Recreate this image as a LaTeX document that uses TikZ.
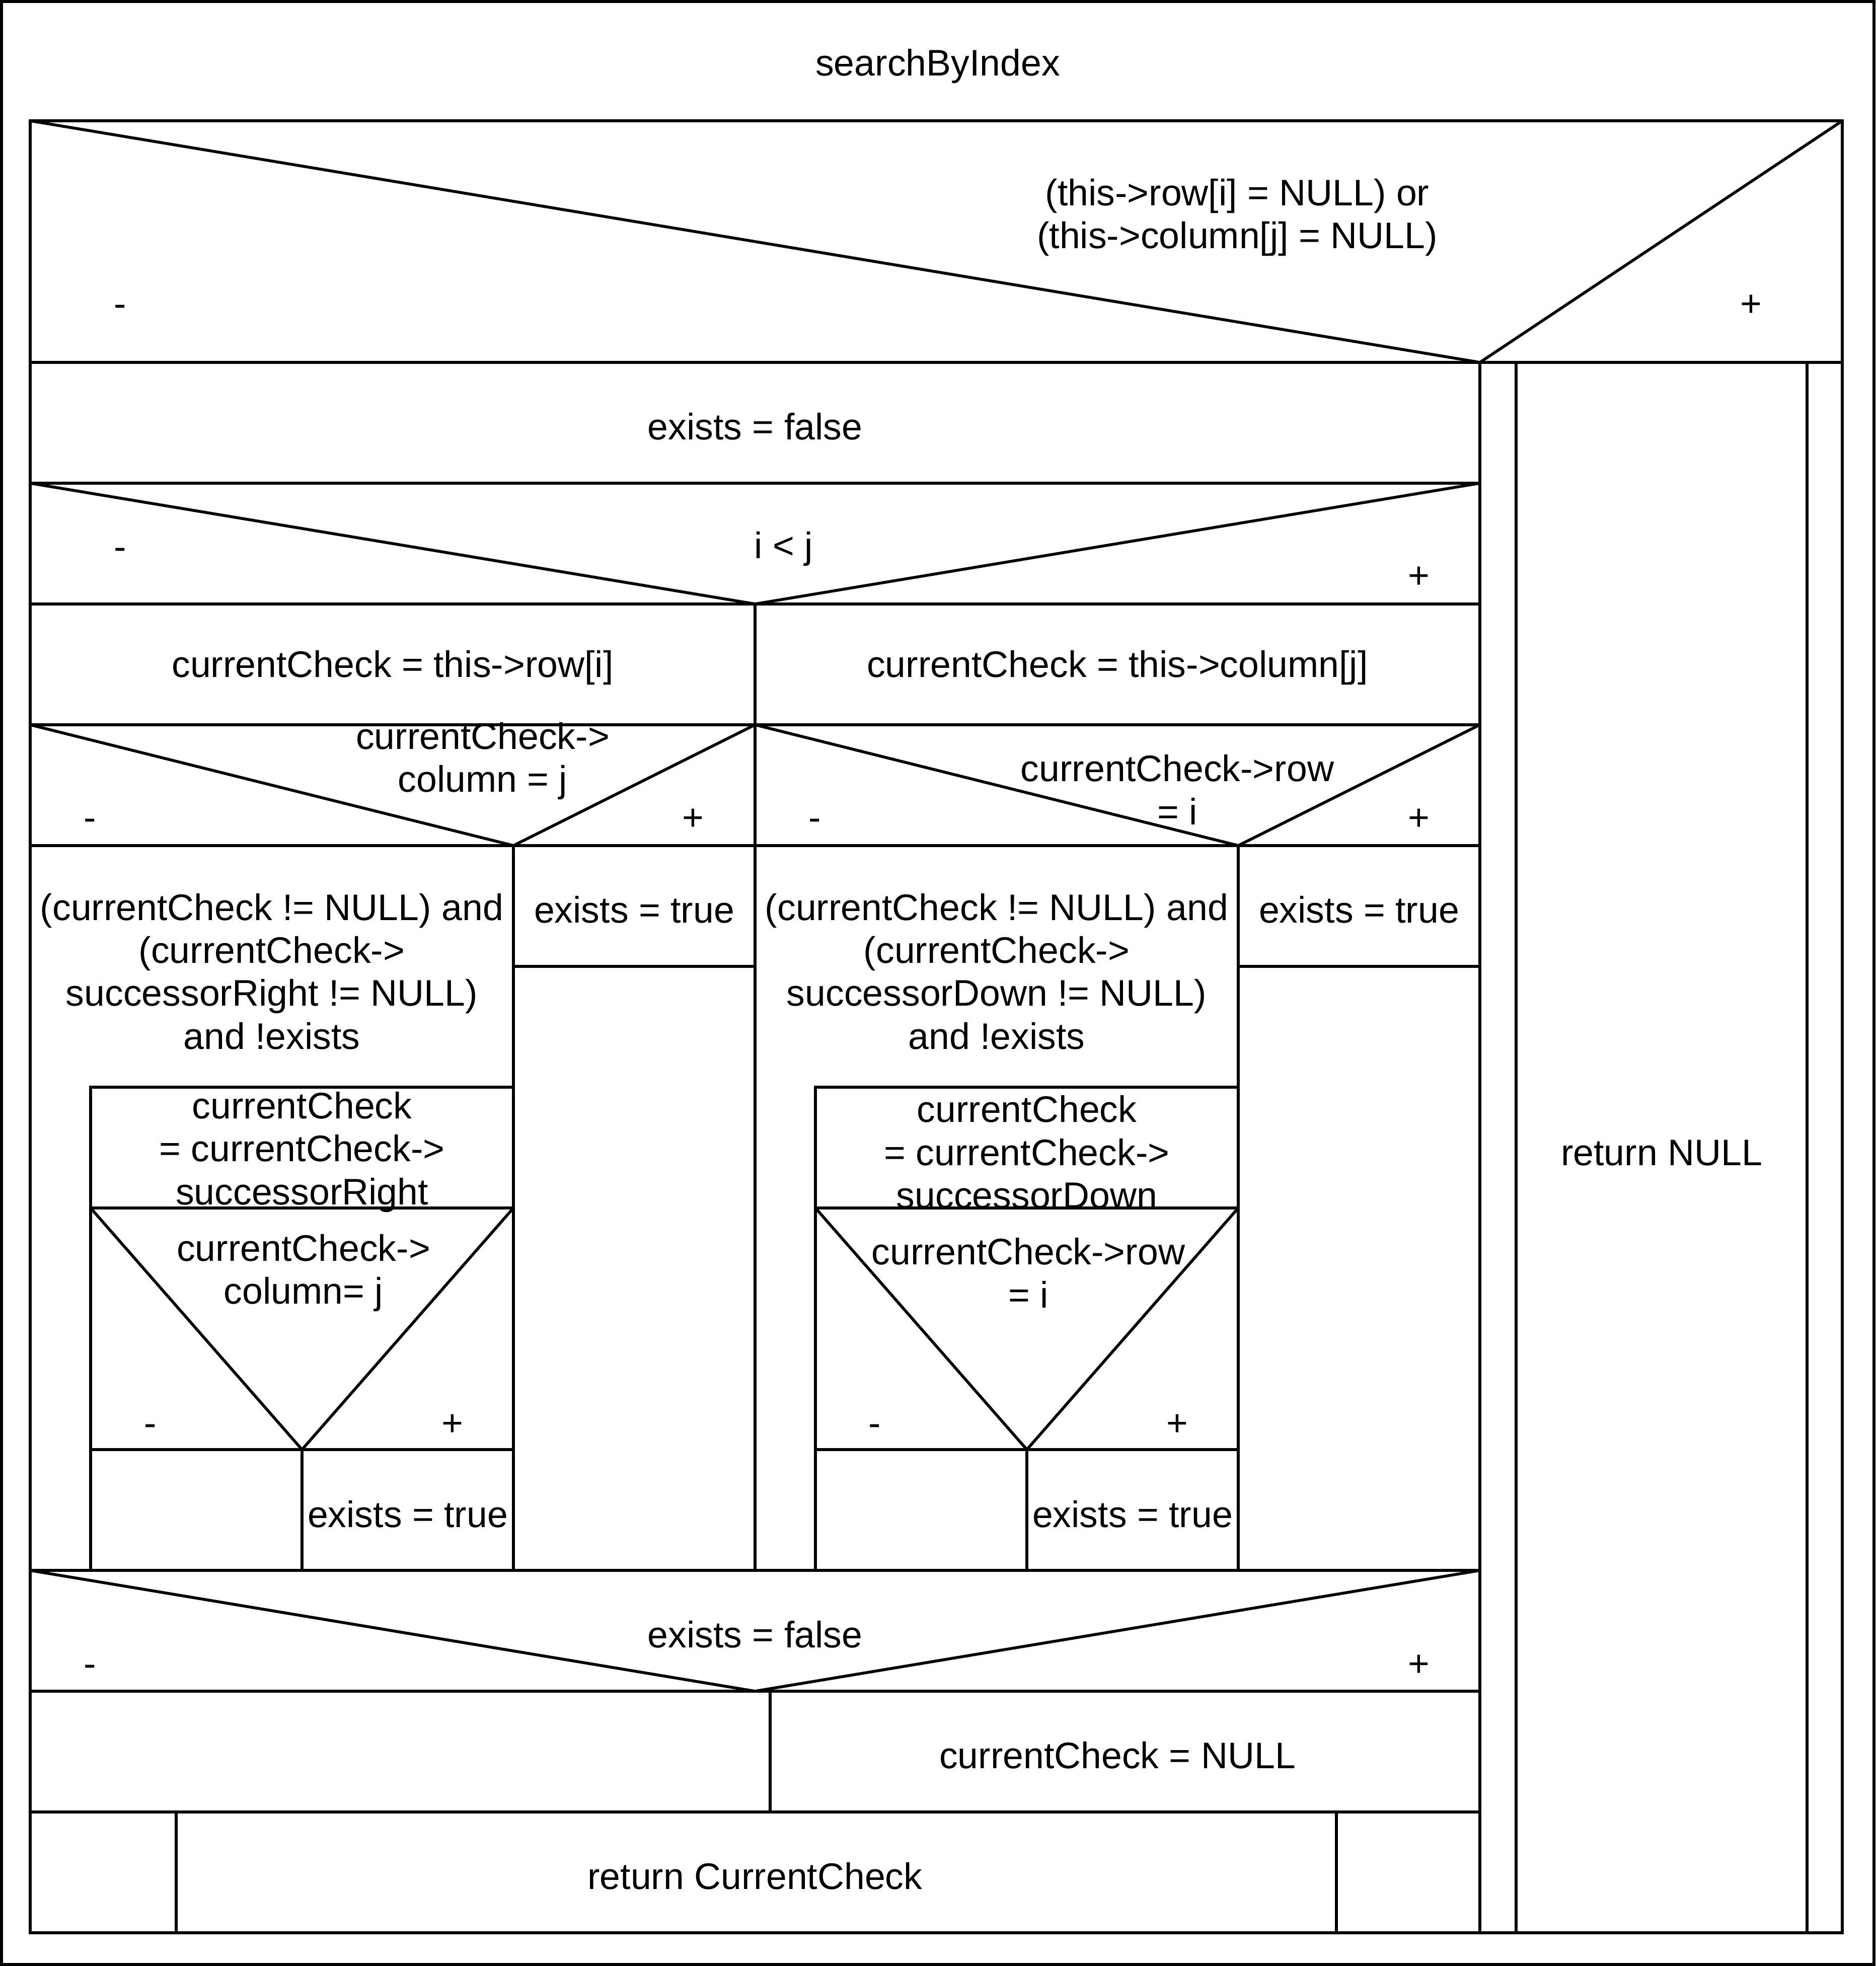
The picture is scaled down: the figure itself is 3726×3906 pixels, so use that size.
\documentclass[tikz,border=0pt]{standalone}
\usepackage{fontspec}
\setmainfont{Liberation Sans}
\begin{document}
\begin{tikzpicture}[x=0.004cm,y=-0.004cm,line width=0.65pt,line join=miter,
  lbl/.style={inner sep=0pt,align=center,font=\fontsize{8.35}{9.7}\selectfont},
  sgn/.style={lbl,yshift=-0.03cm},
  pls/.style={lbl,yshift=0.012cm},
  frame/.style={line width=0.72pt}]
\useasboundingbox (0,0) rectangle (3726,3906);
\draw[frame] (3,3) rectangle (3723,3903);
% main block
\draw (60,240) rectangle (3660,3840);
% decision 1
\draw (60,240) -- (2940,720) -- (3660,240);
\draw (60,720) -- (3660,720);
% right branch (return NULL block)
\draw (2940,720) -- (2940,3840);
\draw (3012,720) -- (3012,3840);
\draw (3590,720) -- (3590,3840);
% left branch
\draw (60,960) -- (2940,960);
\draw (60,960) -- (1500,1200) -- (2940,960);
\draw (60,1200) -- (2940,1200);
\draw (1500,1200) -- (1500,3120);
\draw (60,1440) -- (2940,1440);
\draw (60,1440) -- (1020,1680) -- (1500,1440);
\draw (1500,1440) -- (2460,1680) -- (2940,1440);
\draw (60,1680) -- (2940,1680);
\draw (1020,1680) -- (1020,3120);
\draw (2460,1680) -- (2460,3120);
\draw (1020,1920) -- (1500,1920);
\draw (2460,1920) -- (2940,1920);
% left loop body
\draw (1020,2160) -- (180,2160) -- (180,3120);
\draw (180,2400) -- (1020,2400);
\draw (180,2400) -- (600,2880) -- (1020,2400);
\draw (180,2880) -- (1020,2880);
\draw (600,2880) -- (600,3120);
% right loop body
\draw (2460,2160) -- (1620,2160) -- (1620,3120);
\draw (1620,2400) -- (2460,2400);
\draw (1620,2400) -- (2040,2880) -- (2460,2400);
\draw (1620,2880) -- (2460,2880);
\draw (2040,2880) -- (2040,3120);
% final decision
\draw (60,3120) -- (2940,3120);
\draw (60,3120) -- (1500,3360) -- (2940,3120);
\draw (60,3360) -- (2940,3360);
\draw (1530,3360) -- (1530,3600);
\draw (60,3600) -- (2940,3600);
\draw (350,3600) -- (350,3840);
\draw (2655,3600) -- (2655,3840);
% texts
\begin{scope}[yshift=-0.028cm]
\node[lbl] (title) at (1863,125) {searchByIndex};
\node[lbl] (c1) at (2458,425) {(this->row[i] = NULL) or\\(this->column[j] = NULL)};
\node[sgn] (c1m) at (239,603) {-};
\node[pls] (c1p) at (3479,603) {+};
\node[lbl] (retnull) at (3301,2284) {return NULL};
\node[lbl] (ef1) at (1500,840) {exists = false};
\node[lbl] (c2) at (1557,1084) {i < j};
\node[sgn] (c2m) at (239,1086) {-};
\node[pls] (c2p) at (2819,1143) {+};
\node[lbl] (asgrow) at (780,1320) {currentCheck = this->row[i]};
\node[lbl] (asgcol) at (2220,1320) {currentCheck = this->column[j]};
\node[lbl] (c3) at (959,1505) {currentCheck->\\column = j};
\node[sgn] (c3m) at (179,1624) {-};
\node[pls] (c3p) at (1377,1624) {+};
\node[lbl] (c4) at (2339,1562) {currentCheck->row\\= i};
\node[sgn] (c4m) at (1619,1624) {-};
\node[pls] (c4p) at (2819,1624) {+};
\node[lbl] (et1) at (1260,1800) {exists = true};
\node[lbl] (et2) at (2700,1800) {exists = true};
\node[lbl] (w1) at (540,1923) {(currentCheck != NULL) and\\(currentCheck->\\successorRight != NULL)\\and !exists};
\node[lbl] (w2) at (1980,1923) {(currentCheck != NULL) and\\(currentCheck->\\successorDown != NULL)\\and !exists};
\node[lbl] (s1) at (600,2282) {currentCheck\\= currentCheck->\\successorRight};
\node[lbl] (s2) at (2040,2282) {currentCheck\\= currentCheck->\\successorDown};
\node[lbl] (c5) at (603,2522) {currentCheck->\\column= j};
\node[sgn] (c5m) at (299,2827) {-};
\node[pls] (c5p) at (899,2827) {+};
\node[lbl] (c6) at (2043,2522) {currentCheck->row\\= i};
\node[sgn] (c6m) at (1738,2827) {-};
\node[pls] (c6p) at (2339,2827) {+};
\node[lbl] (et3) at (810,3001) {exists = true};
\node[lbl] (et4) at (2250,3001) {exists = true};
\node[lbl] (c7) at (1500,3240) {exists = false};
\node[sgn] (c7m) at (179,3305) {-};
\node[pls] (c7p) at (2819,3305) {+};
\node[lbl] (ccnull) at (2220,3480) {currentCheck = NULL};
\node[lbl] (retcc) at (1500,3720) {return CurrentCheck};
\end{scope}
\end{tikzpicture}
\end{document}
